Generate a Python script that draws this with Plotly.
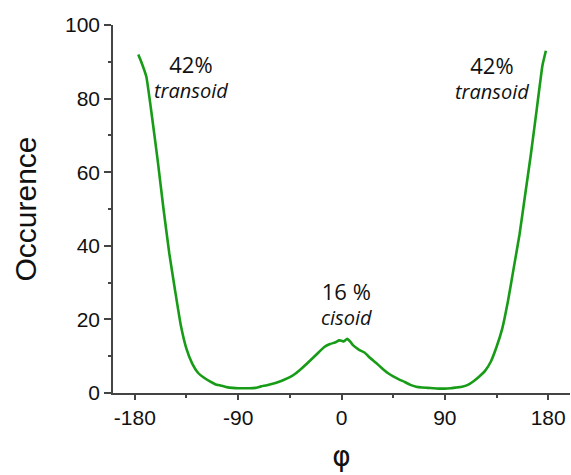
import plotly.graph_objects as go

phi = [-177, -175, -170, -165, -160, -155, -150, -145, -140, -135, -130, -125, -120,
       -115, -110, -105, -100, -95, -90, -85, -80, -75, -70, -65, -60, -55, -50, -45,
       -40, -35, -30, -25, -20, -15, -10, -5, -2, 0, 2, 5, 8, 10, 15, 20, 25, 30, 35,
       40, 45, 50, 55, 60, 65, 70, 75, 80, 85, 90, 95, 100, 105, 110, 115, 120, 125,
       130, 135, 140, 145, 150, 155, 160, 165, 170, 175, 178]
occurence = [92.0, 90.5, 86.0, 75.0, 63.0, 50.0, 38.0, 28.0, 18.5, 12.0, 8.0, 5.5, 4.2,
             3.2, 2.4, 2.0, 1.6, 1.4, 1.3, 1.3, 1.3, 1.4, 1.8, 2.1, 2.5, 3.0, 3.6, 4.3,
             5.3, 6.6, 8.0, 9.5, 11.0, 12.5, 13.3, 13.8, 14.3, 14.2, 14.0, 14.7, 13.8,
             13.0, 11.8, 11.0, 9.5, 8.2, 6.8, 5.5, 4.5, 3.7, 3.0, 2.2, 1.7, 1.5, 1.4,
             1.3, 1.2, 1.2, 1.3, 1.5, 1.7, 2.2, 3.2, 4.5, 6.0, 8.5, 12.5, 17.5, 25.0,
             34.0, 43.0, 54.0, 65.0, 77.0, 89.0, 93.0]

x_ticks = [-180, -90, 0, 90, 180]
x_ticktext = ["-180", "-90", "0", "90", "180"]
y_ticks = [0, 20, 40, 60, 80, 100]

label_pos_x = [-131, 131, 4]
label_pos_y = [85.9, 85.8, 24.2]
label_pct = ["42%", "42%", "16 %"]
label_name = ["transoid", "transoid", "cisoid"]

fig = go.Figure()
fig.add_trace(go.Scatter(x=phi, y=occurence, mode="lines",
                         line=dict(color="#189c18", width=2.6, shape="spline", smoothing=0.4),
                         showlegend=False, hoverinfo="skip"))

ann_font = dict(family="Open Sans, Liberation Sans, sans-serif", size=19, color="#111")
for x, y, p, n in zip(label_pos_x, label_pos_y, label_pct, label_name):
    fig.add_annotation(x=x, y=y,
                       text=f"<span style='font-size:22px'>{p}</span><br>"
                            f"<span style='font-size:20px'><i>{n}</i></span>",
                       font=ann_font, showarrow=False, xref="x", yref="y", align="center")

axis_common = dict(showgrid=False, zeroline=False, showline=True, linecolor="#444",
                   linewidth=1.5, ticks="outside", tickcolor="#444", tickwidth=1.5,
                   automargin=False,
                   tickfont=dict(family="Liberation Sans, Arial, sans-serif", size=21, color="#111"))

fig.update_xaxes(range=[-199, 199], tickvals=x_ticks, ticktext=x_ticktext, ticklen=5,
                 minor=dict(tickvals=[-135, -45, 45, 135], ticks="outside", ticklen=3,
                            tickcolor="#444", tickwidth=1.5),
                 title=dict(text="φ", font=dict(family="DejaVu Sans, Liberation Sans, sans-serif", size=28, color="#111"),
                            standoff=18),
                 **axis_common)
fig.update_yaxes(range=[0, 100], tickvals=y_ticks, ticklen=7,
                 minor=dict(tickvals=[10, 30, 50, 70, 90], ticks="outside", ticklen=3,
                            tickcolor="#444", tickwidth=1.5),
                 title=dict(text="Occurence", font=dict(family="Liberation Sans, Arial, sans-serif", size=30, color="#111"),
                            standoff=20),
                 **axis_common)

fig.update_layout(width=571, height=475, margin=dict(l=113, r=1, t=25, b=82),
                  plot_bgcolor="white", paper_bgcolor="white")

fig.write_html("out.html", config={"displayModeBar": False},
               post_script="document.body.style.margin='0';document.body.style.padding='0';"
                           "document.body.style.overflow='hidden';")
